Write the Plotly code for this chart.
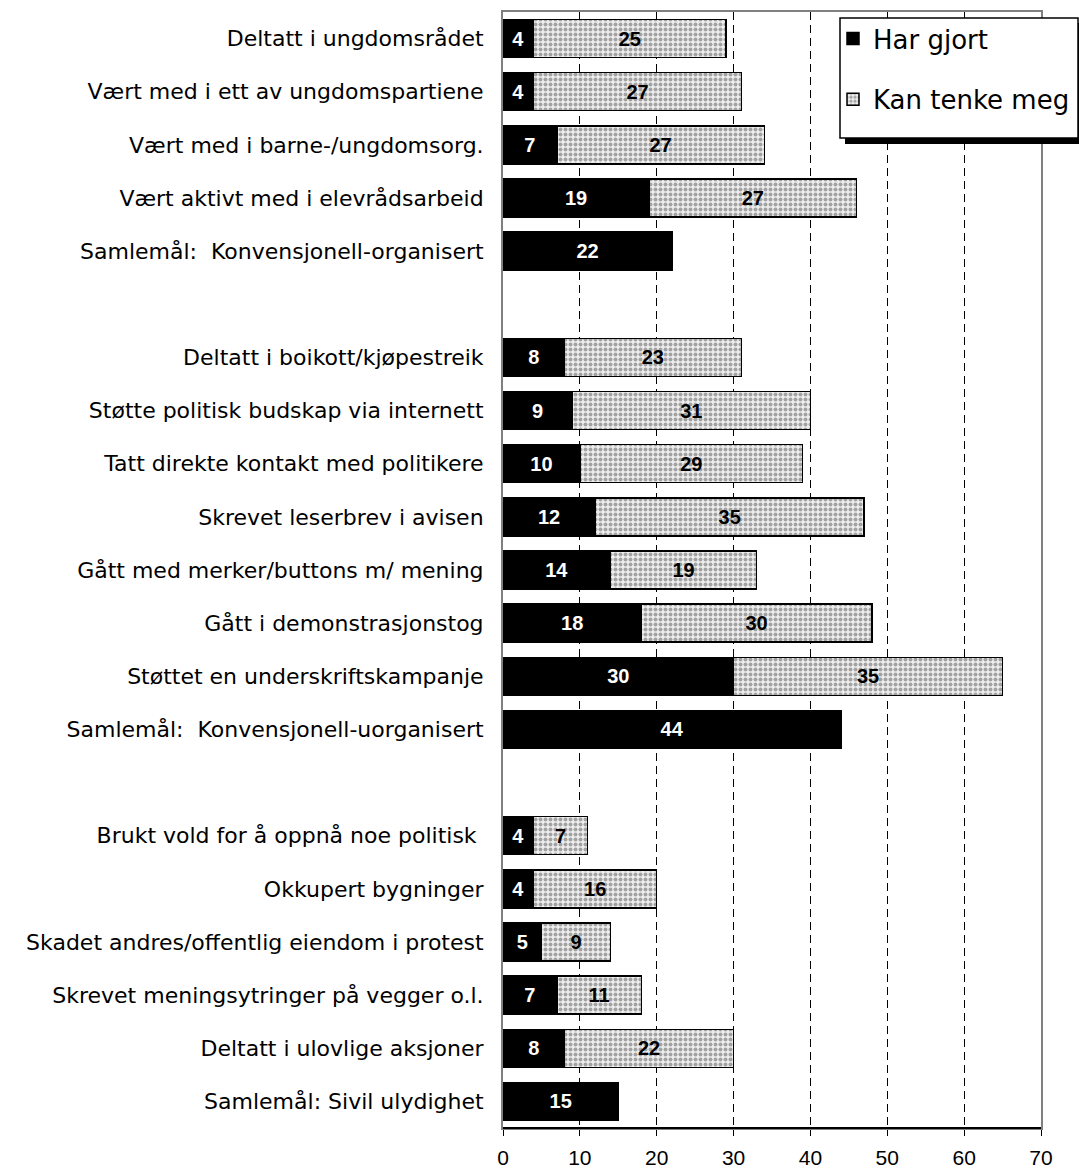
import plotly.graph_objects as go

NB = "\u00a0"
categories = [
    "Deltatt i ungdomsrådet",
    "Vært med i ett av ungdomspartiene",
    "Vært med i barne-/ungdomsorg.",
    "Vært aktivt med i elevrådsarbeid",
    "Samlemål:" + NB + NB + "Konvensjonell-organisert",
    " ",
    "Deltatt i boikott/kjøpestreik",
    "Støtte politisk budskap via internett",
    "Tatt direkte kontakt med politikere",
    "Skrevet leserbrev i avisen",
    "Gått med merker/buttons m/ mening",
    "Gått i demonstrasjonstog",
    "Støttet en underskriftskampanje",
    "Samlemål:" + NB + NB + "Konvensjonell-uorganisert",
    "  ",
    "Brukt vold for å oppnå noe politisk" + NB,
    "Okkupert bygninger",
    "Skadet andres/offentlig eiendom i protest",
    "Skrevet meningsytringer på vegger o.l.",
    "Deltatt i ulovlige aksjoner",
    "Samlemål: Sivil ulydighet",
]
har_gjort = [4, 4, 7, 19, 22, None, 8, 9, 10, 12, 14, 18, 30, 44, None, 4, 4, 5, 7, 8, 15]
kan_tenke = [25, 27, 27, 27, None, None, 23, 31, 29, 35, 19, 30, 35, None, None, 7, 16, 9, 11, 22, None]
x_ticks = [0, 10, 20, 30, 40, 50, 60, 70]

FONT = "DejaVu Sans, Arial, sans-serif"
ARIAL = "Liberation Sans, Arial, sans-serif"

fig = go.Figure()
fig.add_trace(go.Bar(
    name="Har gjort", y=categories, x=har_gjort, orientation="h",
    marker=dict(color="black", line=dict(color="black", width=1.5)),
    text=[str(v) if v is not None else "" for v in har_gjort],
    textposition="inside", insidetextanchor="middle", textangle=0,
    constraintext="none",
    textfont=dict(family=ARIAL, size=20, color="white", weight="bold"),
    legendgroup="a",
))
fig.add_trace(go.Bar(
    name="Kan tenke meg", y=categories, x=kan_tenke, orientation="h",
    marker=dict(color="#e0e0e0", line=dict(color="black", width=1.5),
                pattern=dict(shape=".", fgcolor="#555555", bgcolor="#eeeeee",
                             size=5, solidity=0.5)),
    text=[str(v) if v is not None else "" for v in kan_tenke],
    textposition="inside", insidetextanchor="middle", textangle=0,
    constraintext="none",
    textfont=dict(family=ARIAL, size=20, color="black", weight="bold"),
    legendgroup="b",
))

L, R, T, B = 503, 38, 12, 40
W, H = 1079, 1168
pw = W - L - R
ph = H - T - B

def px_x(p):
    return (p - L) / pw

def px_y(p):
    return 1 - (p - T) / ph

shapes = [
    # legend shadow
    dict(type="rect", xref="paper", yref="paper",
         x0=px_x(845), x1=px_x(1084), y0=px_y(144), y1=px_y(23),
         fillcolor="black", line=dict(width=0), layer="above"),
    # legend box
    dict(type="rect", xref="paper", yref="paper",
         x0=px_x(840), x1=px_x(1078), y0=px_y(138), y1=px_y(18),
         fillcolor="white", line=dict(color="black", width=1.5), layer="above"),
    # bottom axis black
    dict(type="line", xref="paper", yref="paper", x0=0, x1=1, y0=0, y1=0,
         line=dict(color="black", width=2), layer="above"),
]

fig.update_layout(
    width=W, height=H,
    margin=dict(l=L, r=R, t=T, b=B, pad=0, autoexpand=False),
    barmode="stack", bargap=0.285,
    plot_bgcolor="white", paper_bgcolor="white",
    font=dict(family=FONT, color="black"),
    showlegend=True,
    legend=dict(x=px_x(833), y=px_y(15), xanchor="left", yanchor="top",
                bgcolor="rgba(0,0,0,0)", borderwidth=0,
                font=dict(family=FONT, size=26, color="black"),
                tracegroupgap=24, itemclick=False),
    shapes=shapes,
    xaxis=dict(range=[0, 70], tickvals=x_ticks, ticktext=[str(v) for v in x_ticks],
               automargin=False,
               showgrid=True, gridcolor="black", gridwidth=1, griddash="8px,5px",
               zeroline=False, showline=True, linecolor="#808080", linewidth=2,
               mirror=True, ticks="outside", ticklen=6, tickcolor="black",
               ticklabelstandoff=4,
               tickfont=dict(family=ARIAL, size=21, color="black"),
               fixedrange=True),
    yaxis=dict(categoryorder="array", categoryarray=categories, type="category",
               automargin=False,
               range=[len(categories) - 0.5, -0.5],
               showgrid=False, zeroline=False, showline=True, linecolor="#808080",
               linewidth=2, mirror=True, ticks="", ticklabelstandoff=13,
               tickfont=dict(family=FONT, size=22, color="black"),
               fixedrange=True),
)

fig.write_html("out.html", config={"displayModeBar": False},
               post_script="document.body.style.margin='0px';document.body.style.overflow='hidden';")
